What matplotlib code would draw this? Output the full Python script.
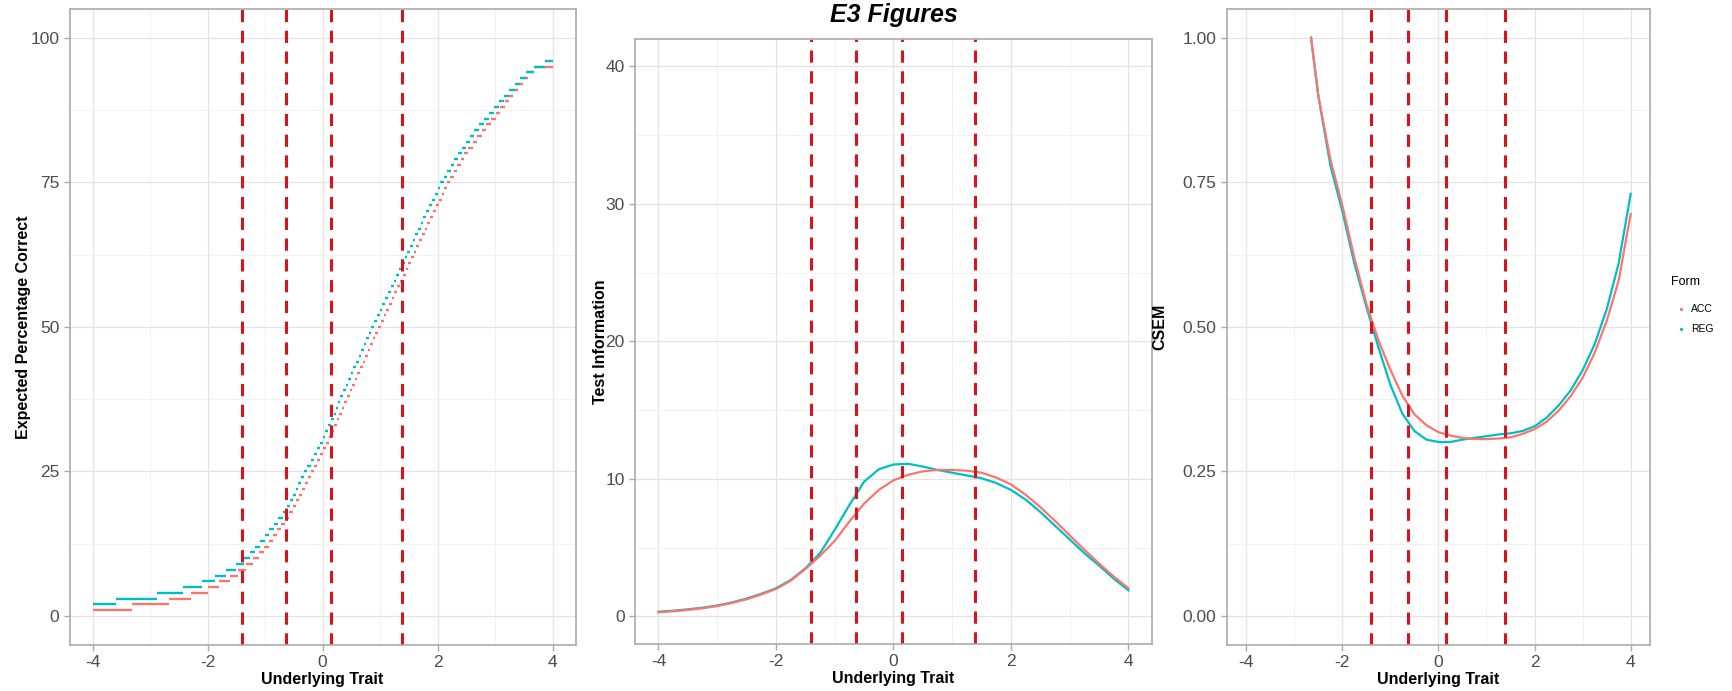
import matplotlib.pyplot as plt  # biblioteca de gráfico
from matplotlib.lines import Line2D

plt.rcParams['font.family'] = ['Liberation Sans', 'DejaVu Sans']
plt.rcParams['axes.unicode_minus'] = False

# cores das formas (padrão do ggplot)
cor_acc = "#F8766D"
cor_reg = "#00BFC4"
cor_corte = "#D7141E"

# pontos de corte (linhas tracejadas)
cortes = [-1.41, -0.64, 0.15, 1.39]

# painel 1: percentual esperado em degraus (início de cada nível no traço latente)
theta_max = 4.0
acc_niveis = list(range(1, 96))
acc_inicio = [-4.00, -3.32, -2.68, -2.29, -2.00, -1.80, -1.61, -1.465, -1.33, -1.21,
              -1.11, -1.02, -0.94, -0.86, -0.79, -0.72, -0.65, -0.58, -0.52, -0.465,
              -0.41, -0.36, -0.31, -0.26, -0.21, -0.155, -0.10, -0.045, 0.005, 0.055,
              0.105, 0.155, 0.20, 0.245, 0.29, 0.335, 0.38, 0.425, 0.47, 0.515,
              0.56, 0.605, 0.65, 0.695, 0.74, 0.785, 0.83, 0.875, 0.92, 0.965,
              1.01, 1.06, 1.105, 1.155, 1.20, 1.25, 1.30, 1.35, 1.395, 1.445,
              1.49, 1.54, 1.585, 1.63, 1.68, 1.725, 1.775, 1.82, 1.87, 1.92,
              1.97, 2.02, 2.07, 2.12, 2.17, 2.22, 2.28, 2.34, 2.40, 2.46,
              2.53, 2.61, 2.69, 2.77, 2.85, 2.93, 3.01, 3.09, 3.17, 3.25,
              3.32, 3.40, 3.48, 3.57, 3.68]
reg_niveis = list(range(2, 97))
reg_inicio = [-4.00, -3.60, -2.88, -2.42, -2.10, -1.87, -1.68, -1.51, -1.37, -1.26,
              -1.17, -1.08, -1.00, -0.93, -0.85, -0.77, -0.69, -0.62, -0.57, -0.52,
              -0.47, -0.42, -0.375, -0.33, -0.27, -0.21, -0.155, -0.10, -0.05, 0.00,
              0.05, 0.10, 0.14, 0.19, 0.23, 0.27, 0.31, 0.355, 0.40, 0.445,
              0.49, 0.535, 0.58, 0.625, 0.67, 0.715, 0.76, 0.805, 0.85, 0.90,
              0.945, 0.995, 1.04, 1.09, 1.14, 1.19, 1.235, 1.285, 1.33, 1.38,
              1.425, 1.47, 1.52, 1.565, 1.61, 1.66, 1.705, 1.75, 1.80, 1.85,
              1.90, 1.95, 2.00, 2.05, 2.11, 2.17, 2.23, 2.29, 2.35, 2.42,
              2.49, 2.57, 2.64, 2.72, 2.80, 2.89, 2.98, 3.07, 3.16, 3.25,
              3.34, 3.43, 3.53, 3.68, 3.87]

# painel 2: informação do teste
theta = [-4.0, -3.75, -3.5, -3.25, -3.0, -2.75, -2.5, -2.25, -2.0, -1.75, -1.5,
         -1.25, -1.0, -0.75, -0.5, -0.25, 0.0, 0.25, 0.5, 0.75, 1.0, 1.25, 1.5,
         1.75, 2.0, 2.25, 2.5, 2.75, 3.0, 3.25, 3.5, 3.75, 4.0]
info_acc = [0.30, 0.38, 0.48, 0.60, 0.76, 0.98, 1.25, 1.60, 2.00, 2.60, 3.45,
            4.40, 5.50, 6.90, 8.20, 9.20, 9.90, 10.30, 10.55, 10.65, 10.65, 10.60, 10.45,
            10.10, 9.60, 8.85, 7.95, 6.95, 5.90, 4.85, 3.85, 2.90, 2.05]
info_reg = [0.35, 0.42, 0.52, 0.64, 0.80, 1.02, 1.30, 1.65, 2.05, 2.65, 3.50,
            4.60, 6.30, 8.10, 9.80, 10.70, 11.05, 11.10, 10.90, 10.65, 10.45, 10.25, 10.05,
            9.70, 9.20, 8.50, 7.60, 6.60, 5.60, 4.60, 3.70, 2.75, 1.90]

# painel 3: CSEM
theta_csem = [-2.65, -2.5, -2.25, -2.0, -1.75, -1.5, -1.25, -1.0, -0.75, -0.5,
              -0.25, 0.0, 0.25, 0.5, 0.75, 1.0, 1.25, 1.5, 1.75, 2.0, 2.25,
              2.5, 2.75, 3.0, 3.25, 3.5, 3.75, 4.0]
csem_acc = [1.00, 0.90, 0.79, 0.71, 0.62, 0.54, 0.477, 0.426, 0.381, 0.349,
            0.330, 0.318, 0.312, 0.308, 0.306, 0.306, 0.307, 0.309, 0.315, 0.323, 0.336,
            0.355, 0.380, 0.412, 0.455, 0.510, 0.580, 0.695]
csem_reg = [1.00, 0.90, 0.78, 0.70, 0.61, 0.535, 0.465, 0.400, 0.350, 0.320,
            0.305, 0.301, 0.301, 0.305, 0.308, 0.311, 0.314, 0.316, 0.320, 0.328, 0.343,
            0.364, 0.390, 0.425, 0.470, 0.530, 0.610, 0.730]

formas = ["ACC", "REG"]


def estilo(ax, ylim, yticks, yminor, ylabel, fmt="{:g}"):
    ax.set_xlim(-4.4, 4.4)
    ax.set_ylim(*ylim)
    ax.set_xticks([-4, -2, 0, 2, 4])
    ax.set_xticks([-3, -1, 1, 3], minor=True)
    ax.set_yticks(yticks)
    ax.set_yticklabels([fmt.format(v) for v in yticks])
    ax.set_yticks(yminor, minor=True)
    ax.grid(which="major", color="#E3E3E3", lw=0.9)
    ax.grid(which="minor", color="#F0F0F0", lw=0.6)
    ax.set_axisbelow(True)
    for s in ax.spines.values():
        s.set_color("#ABABAB")
        s.set_linewidth(1.2)
    ax.tick_params(which="major", color="#ABABAB", labelcolor="#4D4D4D",
                   labelsize=12.5, length=4, width=1)
    ax.tick_params(which="minor", length=0)
    ax.set_xlabel("Underlying Trait", fontsize=11.5, fontweight="bold")
    ax.set_ylabel(ylabel, fontsize=11.5, fontweight="bold")
    ax.xaxis.labelpad = 1
    for c in cortes:
        linha = ax.axvline(c, color=cor_corte, lw=2.2)
        linha.set_dashes([4, 2.8])


fig = plt.figure(figsize=(17.32, 6.91), dpi=100)
ax1 = fig.add_axes([0.0402, 0.0666, 0.2921, 0.9207])
ax2 = fig.add_axes([0.3666, 0.068, 0.2985, 0.876])
ax3 = fig.add_axes([0.7084, 0.0666, 0.2442, 0.9207])

# degraus
acc_fim = acc_inicio[1:] + [theta_max]
reg_fim = reg_inicio[1:] + [theta_max]
ax1.hlines(acc_niveis, acc_inicio, acc_fim, color=cor_acc, lw=1.7)
ax1.hlines(reg_niveis, reg_inicio, reg_fim, color=cor_reg, lw=1.7)
estilo(ax1, (-5, 105), [0, 25, 50, 75, 100], [12.5, 37.5, 62.5, 87.5],
       "Expected Percentage Correct")
ax1.yaxis.set_label_coords(-0.076, 0.5)

ax2.plot(theta, info_reg, color=cor_reg, lw=1.6)
ax2.plot(theta, info_acc, color=cor_acc, lw=1.6)
estilo(ax2, (-2, 42), [0, 10, 20, 30, 40], [5, 15, 25, 35], "Test Information")
ax2.yaxis.set_label_coords(-0.053, 0.5)

ax3.plot(theta_csem, csem_reg, color=cor_reg, lw=1.6)
ax3.plot(theta_csem, csem_acc, color=cor_acc, lw=1.6)
estilo(ax3, (-0.05, 1.05), [0, 0.25, 0.5, 0.75, 1.0], [0.125, 0.375, 0.625, 0.875],
       "CSEM", fmt="{:.2f}")
ax3.yaxis.set_label_coords(-0.14, 0.5)

fig.text(0.516, 0.978, "E3 Figures", fontsize=18, fontweight="bold",
         fontstyle="italic", ha="center", va="center")

# legenda (montada à mão)
fig.text(0.9645, 0.592, "Form", fontsize=9, ha="left", va="center")
for forma, cor, y in zip(formas, [cor_acc, cor_reg], [0.553, 0.524]):
    fig.add_artist(Line2D([0.9705], [y], ls="none", marker="o", markersize=1.3,
                          color=cor, transform=fig.transFigure))
    fig.text(0.9765, y, forma, fontsize=7.5, ha="left", va="center")

fig.savefig("out.png", dpi=100)
